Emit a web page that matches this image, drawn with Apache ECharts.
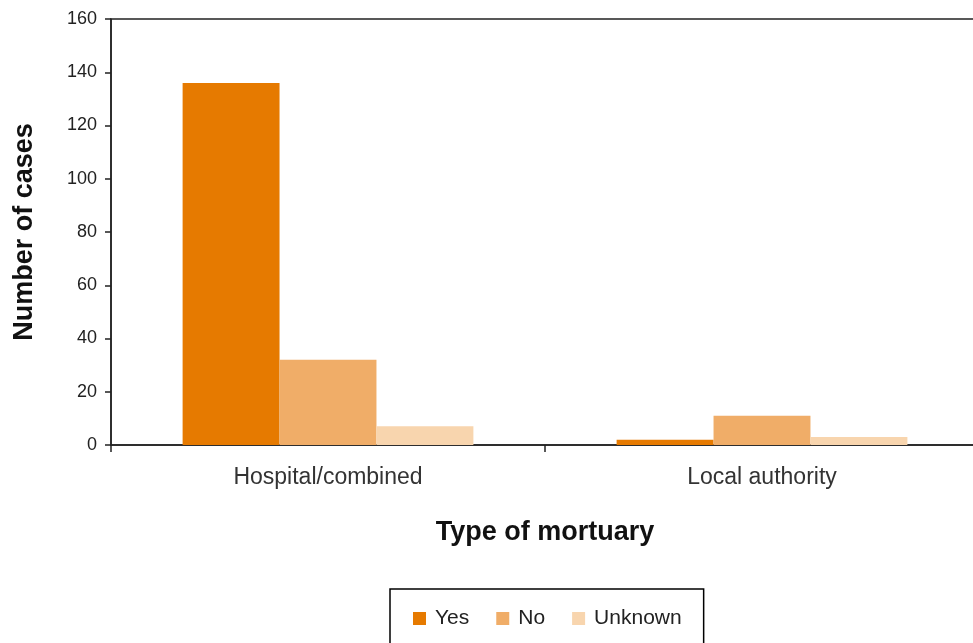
<!DOCTYPE html>
<html>
<head>
<meta charset="utf-8">
<script src="https://cdn.jsdelivr.net/npm/echarts@6/dist/echarts.min.js"></script>
<style>
  html, body { margin: 0; padding: 0; background: #fff; }
  #chart { width: 973px; height: 643px; }
</style>
</head>
<body>
<div id="chart"></div>
<script>
const categories = ["Hospital/combined", "Local authority"];
const yesValues = [136, 2];
const noValues = [32, 11];
const unknownValues = [7, 3];

const chart = echarts.init(document.getElementById("chart"));

const font = "'Liberation Sans', Arial, sans-serif";

chart.setOption({
  animation: false,
  textStyle: { fontFamily: font },
  grid: {
    left: 111,
    top: 19,
    width: 868,
    height: 426,
    outerBoundsMode: "none",
    show: true,
    borderColor: "#222",
    borderWidth: 1.5,
  },
  legend: {
    left: 390,
    top: 589,
    padding: [19, 22, 22, 23],
    borderColor: "#000",
    borderWidth: 1.5,
    icon: "rect",
    itemWidth: 13,
    itemHeight: 13,
    itemGap: 27,
    textStyle: { fontSize: 21, color: "#222", fontFamily: font, padding: [0, 0, 0, 4] },
    data: ["Yes", "No", "Unknown"],
  },
  xAxis: {
    type: "category",
    data: categories,
    name: "Type of mortuary",
    nameLocation: "middle",
    nameGap: 74,
    nameTextStyle: { fontSize: 27, fontWeight: "bold", color: "#111", fontFamily: font },
    axisLine: { lineStyle: { color: "#222", width: 1.5 } },
    axisTick: { show: true, length: 7, lineStyle: { color: "#222", width: 1.5 } },
    axisLabel: { fontSize: 23, color: "#333", margin: 21, fontFamily: font },
  },
  yAxis: {
    type: "value",
    min: 0,
    max: 160,
    interval: 20,
    name: "Number of cases",
    nameLocation: "middle",
    nameGap: 73,
    nameTextStyle: { fontSize: 27, fontWeight: "bold", color: "#111", fontFamily: font },
    axisLine: { show: true, lineStyle: { color: "#222", width: 1.5 } },
    axisTick: { show: true, length: 6, lineStyle: { color: "#222", width: 1.5 } },
    axisLabel: { fontSize: 18, color: "#222", margin: 14, fontFamily: font },
    splitLine: { show: false },
  },
  series: [
    {
      name: "Yes",
      type: "bar",
      data: yesValues,
      barGap: "0%",
      barCategoryGap: "33%",
      itemStyle: { color: "#E67A00" },
    },
    {
      name: "No",
      type: "bar",
      data: noValues,
      itemStyle: { color: "#F0AD68" },
    },
    {
      name: "Unknown",
      type: "bar",
      data: unknownValues,
      itemStyle: { color: "#F8D5AE" },
    },
  ],
});
</script>
</body>
</html>
